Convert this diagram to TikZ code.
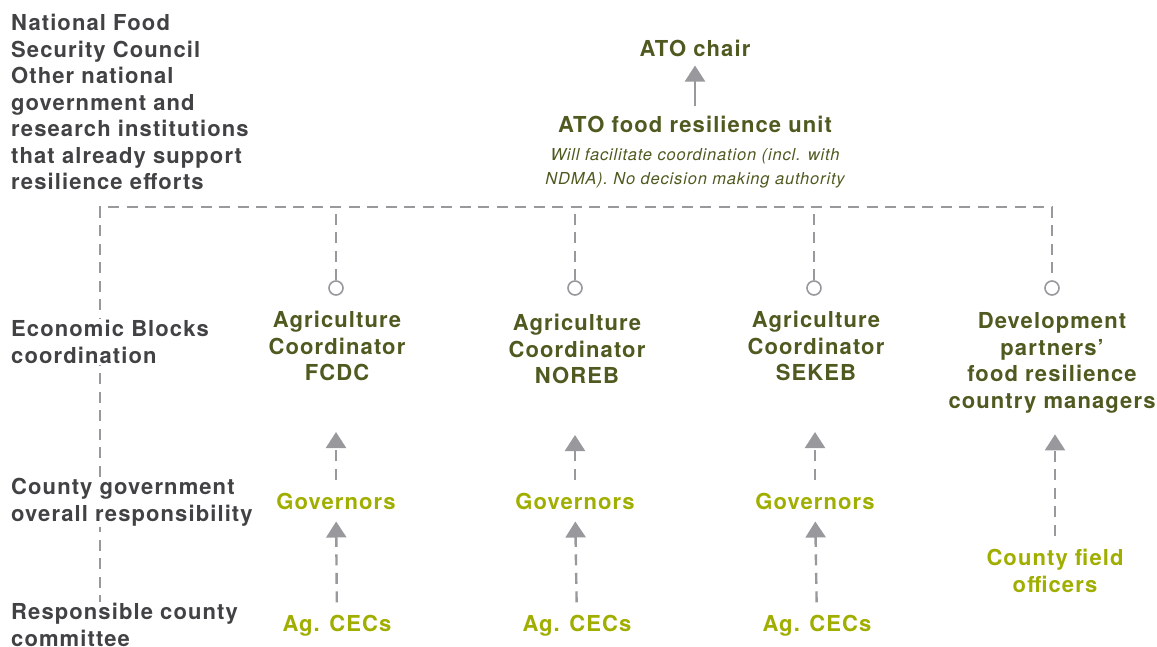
\documentclass[tikz,border=0pt]{standalone}
\usepackage{fontspec}
\setmainfont[LetterSpace=5]{TeX Gyre Heros}
\usetikzlibrary{arrows.meta,positioning}
\definecolor{txtolive}{RGB}{79,90,32}
\definecolor{txtlime}{RGB}{160,174,0}
\definecolor{txtgray}{RGB}{66,66,68}
\definecolor{linegray}{RGB}{152,152,157}

\begin{document}
\begin{tikzpicture}[x=1pt, y=-1pt,
  level/.style={font=\bfseries\fontsize{22}{26.5}\selectfont, text=txtgray, align=left, inner sep=1pt, fill=white},
  head/.style={font=\bfseries\fontsize{22}{26.5}\selectfont, text=txtolive, align=center, inner sep=1pt},
  lime/.style={font=\bfseries\fontsize{22}{27.5}\selectfont, text=txtlime, align=center, inner sep=1pt},
  note/.style={font=\itshape\fontsize{16.5}{24}\selectfont, text=txtolive, align=center, inner sep=1pt},
  dashline/.style={draw=linegray, line width=2.4pt, dash pattern=on 11pt off 7.5pt},
  hub/.style={circle, draw=linegray, line width=1.6pt, fill=white, minimum size=14pt, inner sep=0pt},
  uparr/.style={dashline, -{Triangle[width=20pt, length=16pt]}, shorten <=12pt},
  solidarr/.style={draw=linegray, line width=2.4pt, -{Triangle[width=20pt, length=16pt]}}
]
\useasboundingbox (0,0) rectangle (1157,646);

% top of the structure
\node[head] (chair) at (695,48) {ATO chair};
\node[head] (unit) at (695,124) {ATO food resilience unit};
\node[note, below=14pt of unit] (unitnote) {Will facilitate coordination (incl. with\\NDMA). No decision making authority};
\draw[solidarr, shorten <=8pt, shorten >=8pt] (unit) -- (chair);

% dashed bracket
\coordinate (topL) at (100,207);
\coordinate (topR) at (1052,207);
\coordinate (botL) at (100,606);
\node[hub] (hubA) at (336,288) {};
\node[hub] (hubB) at (575,288) {};
\node[hub] (hubC) at (814,288) {};
\node[hub] (hubD) at (1052,288) {};
\draw[dashline] (botL) -- (topL) -- (topR) -- (hubD);
\draw[dashline] (hubA) -- (hubA |- topL);
\draw[dashline] (hubB) -- (hubB |- topL);
\draw[dashline] (hubC) -- (hubC |- topL);

% level labels
\node[level, fill=none, anchor=west] (natl) at (10,102) {National Food\\Security Council\\Other national\\government and\\research institutions\\that already support\\resilience efforts};
\node[level, anchor=west] (econ) at (10,342) {Economic Blocks\\coordination};
\node[level, anchor=west] (cnty) at (10,502) {County government\\overall responsibility};
\node[level, anchor=west] (cmte) at (10,625) {Responsible county\\committee};

% coordinators
\node[head] (fcdc) at (337,346) {Agriculture\\Coordinator\\FCDC};
\node[head] (noreb) at (577,349) {Agriculture\\Coordinator\\NOREB};
\node[head] (sekeb) at (816,346) {Agriculture\\Coordinator\\SEKEB};
\node[head] (devp) at (1052,363) {Development\\partners'\\food resilience\\country managers};

% county level
\node[lime] (govA) at (336,501) {Governors};
\node[lime] (govB) at (575,501) {Governors};
\node[lime] (govC) at (815,501) {Governors};
\node[lime] (cecA) at (337,626) {Ag. CECs};
\node[lime] (cecB) at (577,626) {Ag. CECs};
\node[lime] (cecC) at (817,626) {Ag. CECs};
\node[lime] (field) at (1055,571) {County field\\officers};

\draw[uparr, shorten >=50pt] (govA) -- (govA |- fcdc.south);
\draw[uparr, shorten >=50pt] (govB) -- (govB |- noreb.south);
\draw[uparr, shorten >=50pt] (govC) -- (govC |- sekeb.south);
\draw[uparr, shorten >=11pt] (cecA) -- (govA);
\draw[uparr, shorten >=11pt] (cecB) -- (govB);
\draw[uparr, shorten >=11pt] (cecC) -- (govC);
\draw[uparr, shorten >=20pt] (field) -- (field |- devp.south);
\end{tikzpicture}
\end{document}
